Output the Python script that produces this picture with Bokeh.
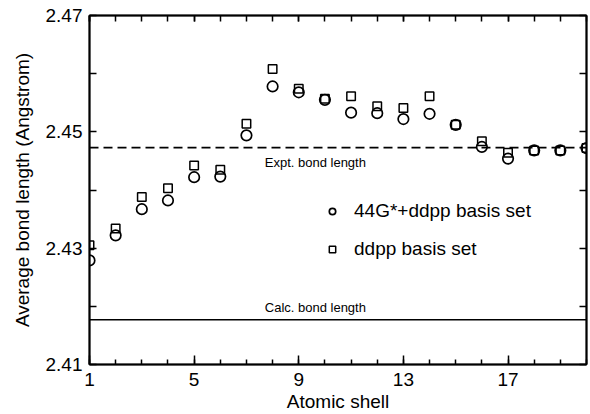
from bokeh.plotting import figure
from bokeh.models import (Range1d, LinearAxis, FixedTicker, Span, Label, Legend,
                          LegendItem, CustomJSTickFormatter)
from bokeh.embed import file_html
from bokeh.resources import INLINE

# ---- data ----
shells = list(range(1, 21))
basis_44g_ddpp = [2.4279, 2.4322, 2.4367, 2.4382, 2.4422, 2.4423, 2.4494, 2.4578,
                  2.4568, 2.4555, 2.4533, 2.4532, 2.4522, 2.4531, 2.4512, 2.4474,
                  2.4454, 2.4468, 2.4468, 2.4472]
basis_ddpp = [2.4305, 2.4334, 2.4388, 2.4403, 2.4442, 2.4435, 2.4514, 2.4608,
              2.4574, 2.4557, 2.4561, 2.4544, 2.4541, 2.4561, 2.4512, 2.4484,
              2.4464, 2.4468, 2.4468, 2.4472]
expt_bond = 2.4473
calc_bond = 2.4177
x_major_ticks = [1, 5, 9, 13, 17]
y_major_ticks = [2.41, 2.43, 2.45, 2.47]
y_minor_ticks = [2.42, 2.44, 2.46]
y_tick_labels = ["2.41", "2.43", "2.45", "2.47"]

FONT = "Liberation Sans"

p = figure(width=590, height=414, x_range=Range1d(1, 20), y_range=Range1d(2.41, 2.47),
           output_backend="svg", toolbar_location=None,
           min_border_left=89, min_border_right=4, min_border_top=15, min_border_bottom=50,
           x_axis_label="Atomic shell", y_axis_label="Average bond length (Angstrom)")
p.grid.visible = False
p.outline_line_color = "black"
p.outline_line_width = 1.5

def style_axis(ax, ticker, major_in, minor_in):
    ax.ticker = ticker
    ax.major_tick_in = major_in
    ax.major_tick_out = 0
    ax.minor_tick_in = minor_in
    ax.minor_tick_out = 0
    ax.axis_line_width = 2
    ax.axis_line_color = "black"
    ax.major_tick_line_width = 1.5
    ax.minor_tick_line_width = 1.5
    ax.major_tick_line_color = "black"
    ax.minor_tick_line_color = "black"
    ax.major_label_text_font = FONT
    ax.major_label_text_font_size = "19px"
    ax.major_label_text_color = "black"
    ax.axis_label_text_font = FONT
    ax.axis_label_text_font_size = "19px"
    ax.axis_label_text_font_style = "normal"
    ax.axis_label_text_color = "black"

xa = p.xaxis[0]
style_axis(xa, FixedTicker(ticks=x_major_ticks, minor_ticks=shells), 9, 5)
xa.major_label_standoff = 8
xa.axis_label_standoff = 2

ya = p.yaxis[0]
style_axis(ya, FixedTicker(ticks=y_major_ticks, minor_ticks=y_minor_ticks), 7, 7)
ya.major_label_overrides = {t: l for t, l in zip(y_major_ticks, y_tick_labels)}
ya.major_label_standoff = 7
ya.axis_label_standoff = 10

blank = CustomJSTickFormatter(code="return ''")
top = LinearAxis(formatter=blank)
style_axis(top, FixedTicker(ticks=x_major_ticks, minor_ticks=shells), 6, 6)
top.major_label_standoff = 0
p.add_layout(top, "above")

right = LinearAxis(formatter=blank)
style_axis(right, FixedTicker(ticks=y_major_ticks, minor_ticks=y_minor_ticks), 7, 7)
right.major_label_standoff = 0
p.add_layout(right, "right")

p.add_layout(Span(location=expt_bond, dimension="width", line_color="black",
                  line_width=1.8, line_dash="9 5"))
p.add_layout(Span(location=calc_bond, dimension="width", line_color="black",
                  line_width=1.5))

p.add_layout(Label(x=7.7, y=expt_bond, y_offset=-15, text="Expt. bond length",
                   text_font=FONT, text_font_size="13px", text_baseline="middle",
                   text_color="black"))
p.add_layout(Label(x=7.7, y=calc_bond, y_offset=12, text="Calc. bond length",
                   text_font=FONT, text_font_size="13px", text_baseline="middle",
                   text_color="black"))

r_sq = p.scatter(shells, basis_ddpp, marker="square", size=8.5, fill_color=None,
                 line_color="black", line_width=1.5)
r_ci = p.scatter(shells, basis_44g_ddpp, marker="circle", size=10.5, fill_color=None,
                 line_color="black", line_width=1.7)

legend = Legend(items=[LegendItem(label="44G*+ddpp basis set", renderers=[r_ci]),
                       LegendItem(label="ddpp basis set", renderers=[r_sq])],
                location=(235, 104), border_line_alpha=0, background_fill_alpha=0,
                padding=0, margin=0, spacing=16, glyph_width=16, glyph_height=20,
                label_height=20, label_standoff=14, label_text_font=FONT,
                label_text_font_size="19px", label_text_color="black")
p.add_layout(legend)

open("out.html", "w").write(file_html(p, INLINE))
